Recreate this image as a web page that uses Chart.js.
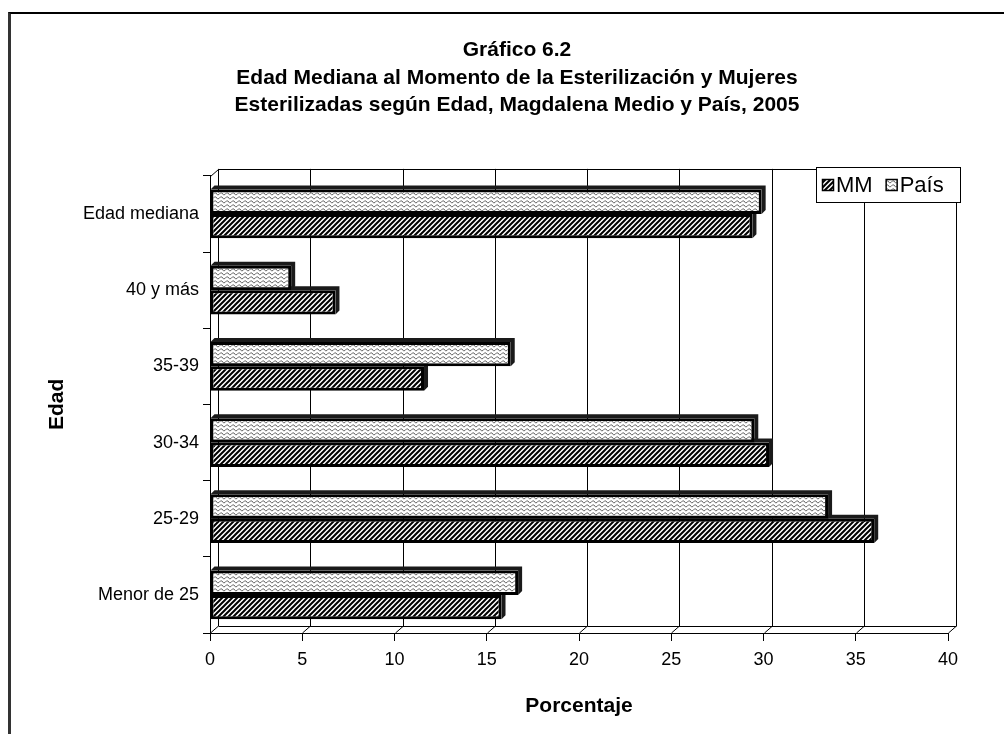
<!DOCTYPE html>
<html lang="es">
<head>
<meta charset="UTF-8">
<title>Gráfico 6.2</title>
<script src="https://cdn.jsdelivr.net/npm/chart.js@4/dist/chart.umd.min.js"></script>
<style>
  html, body { margin: 0; background: #fff; overflow: hidden; }
  #frame { position: absolute; left: 8px; top: 12px; width: 996px; height: 722px; box-sizing: border-box;
           border-top: 2px solid #000; border-left: 3px solid #333; }
  #wrap { position: absolute; left: 0; top: 0; width: 1004px; height: 734px; }
</style>
</head>
<body>
<div id="frame"></div>
<div id="wrap"><canvas id="chart" width="1004" height="734"></canvas></div>
<script>
  // data (top category first)
  const categories = ['Edad mediana', '40 y más', '35-39', '30-34', '25-29', 'Menor de 25'];
  const paisValues = [29.9, 4.4, 16.3, 29.5, 33.5, 16.7];
  const mmValues = [29.4, 6.8, 11.6, 30.3, 36.0, 15.8];
  const titleLines = [
    'Gráfico 6.2',
    'Edad Mediana al Momento de la Esterilización y Mujeres',
    'Esterilizadas según Edad, Magdalena Medio y País, 2005'
  ];
  const xMin = 0, xMax = 40, xStep = 5;

  const FONT = "'Liberation Sans', Arial, sans-serif";
  Chart.defaults.font.family = FONT;
  Chart.defaults.color = '#000';

  // fill patterns (hatch for MM, wavy for País)
  function makePattern(size, draw) {
    const c = document.createElement('canvas');
    c.width = size[0]; c.height = size[1];
    const g = c.getContext('2d');
    g.fillStyle = '#fff';
    g.fillRect(0, 0, c.width, c.height);
    draw(g);
    return document.getElementById('chart').getContext('2d').createPattern(c, 'repeat');
  }
  const mmPattern = makePattern([5, 5], g => {
    g.strokeStyle = '#000';
    g.lineWidth = 2;
    g.beginPath();
    [-5, 0, 5].forEach(k => { g.moveTo(k - 1, 6); g.lineTo(k + 6, -1); });
    g.stroke();
  });
  const paisPattern = makePattern([6, 4], g => {
    g.strokeStyle = '#666';
    g.lineWidth = 1;
    g.beginPath();
    g.moveTo(0, 1);
    g.quadraticCurveTo(1.5, 4, 3, 2.5);
    g.quadraticCurveTo(4.5, 0, 6, 1);
    g.stroke();
  });

  // back wall, floor and bar depth
  const depth3d = {
    id: 'depth3d',
    beforeDatasetsDraw(chart) {
      const {ctx, chartArea: a, scales: {x}} = chart;
      const dx = 8, dy = 7;
      ctx.save();
      ctx.strokeStyle = '#000';
      ctx.lineWidth = 1;
      ctx.beginPath();
      x.ticks.forEach(t => {
        const px = Math.round(x.getPixelForValue(t.value)) + 0.5;
        ctx.moveTo(px + dx, a.top - dy);
        ctx.lineTo(px + dx, a.bottom - dy);
        ctx.lineTo(px, a.bottom);
      });
      const l = Math.round(a.left) + 0.5, r = Math.round(a.right) + 0.5;
      const t = Math.round(a.top) + 0.5, b = Math.round(a.bottom) + 0.5;
      ctx.moveTo(l + dx, t - dy); ctx.lineTo(r + dx, t - dy);
      ctx.moveTo(l + dx, b - dy); ctx.lineTo(r + dx, b - dy);
      ctx.moveTo(l, t); ctx.lineTo(l + dx, t - dy);
      ctx.stroke();

      const bd = 4;
      ctx.fillStyle = '#1a1a1a';
      chart.data.datasets.forEach((ds, i) => {
        chart.getDatasetMeta(i).data.forEach(bar => {
          const p = bar.getProps(['x', 'y', 'base', 'height'], true);
          const top = p.y - p.height / 2, bottom = p.y + p.height / 2;
          ctx.beginPath();
          ctx.moveTo(p.base, top);
          ctx.lineTo(p.base + bd, top - bd);
          ctx.lineTo(p.x + bd, top - bd);
          ctx.lineTo(p.x + bd, bottom - bd);
          ctx.lineTo(p.x, bottom);
          ctx.lineTo(p.x, top);
          ctx.closePath();
          ctx.fill();
        });
      });
      ctx.restore();
    }
  };

  // boxed legend sitting on the top-right corner of the plot
  const boxLegend = {
    id: 'boxLegend',
    afterDraw(chart) {
      const {ctx, chartArea: a} = chart;
      const order = [1, 0];
      const left = Math.round(a.right) - 132, top = Math.round(a.top) - 9, w = 144, h = 35;
      ctx.save();
      ctx.fillStyle = '#fff';
      ctx.fillRect(left, top, w, h);
      ctx.strokeStyle = '#000';
      ctx.lineWidth = 1;
      ctx.strokeRect(left + 0.5, top + 0.5, w, h);
      ctx.font = '22px ' + FONT;
      ctx.textBaseline = 'middle';
      let cx = left + 6;
      order.forEach(i => {
        const ds = chart.data.datasets[i];
        ctx.fillStyle = ds.backgroundColor;
        ctx.fillRect(cx, top + 12, 11, 11);
        ctx.lineWidth = 1.5;
        ctx.strokeRect(cx + 0.5, top + 12.5, 11, 11);
        cx += 14;
        ctx.fillStyle = '#000';
        ctx.fillText(ds.label, cx, top + h / 2 + 1);
        cx += ctx.measureText(ds.label).width + 13;
      });
      ctx.restore();
    }
  };

  new Chart(document.getElementById('chart'), {
    type: 'bar',
    data: {
      labels: categories,
      datasets: [
        { label: 'País', data: paisValues, backgroundColor: paisPattern, borderColor: '#000', borderWidth: 3, borderSkipped: false },
        { label: 'MM', data: mmValues, backgroundColor: mmPattern, borderColor: '#000', borderWidth: 3, borderSkipped: false }
      ]
    },
    options: {
      indexAxis: 'y',
      responsive: false,
      animation: false,
      events: [],
      categoryPercentage: 0.64,
      barPercentage: 1,
      layout: { padding: { left: 40, right: 10, top: 0, bottom: 0 } },
      plugins: {
        legend: { display: false },
        tooltip: { enabled: false },
        title: {
          display: true,
          text: titleLines,
          color: '#000',
          font: { size: 21, weight: 'bold', lineHeight: 1.3 },
          padding: { top: 37, bottom: 57 }
        }
      },
      scales: {
        x: {
          min: xMin,
          max: xMax,
          ticks: { stepSize: xStep, color: '#000', font: { size: 18 }, padding: 8 },
          grid: { drawOnChartArea: false, tickLength: 8, color: '#000' },
          border: { color: '#000' },
          title: { display: true, text: 'Porcentaje', color: '#000', font: { size: 21, weight: 'bold' }, padding: { top: 0, bottom: 15 } },
          afterFit(s) { s.height = 101; s.paddingRight = 56; }
        },
        y: {
          ticks: { color: '#000', font: { size: 18 }, padding: 4 },
          grid: { drawOnChartArea: false, tickLength: 7, color: '#000' },
          border: { color: '#000' },
          title: { display: true, text: 'Edad', color: '#000', font: { size: 21, weight: 'bold' }, padding: { top: 5, bottom: 0 } },
          afterFit(s) { s.width = 170; }
        }
      }
    },
    plugins: [depth3d, boxLegend]
  });
</script>
</body>
</html>
